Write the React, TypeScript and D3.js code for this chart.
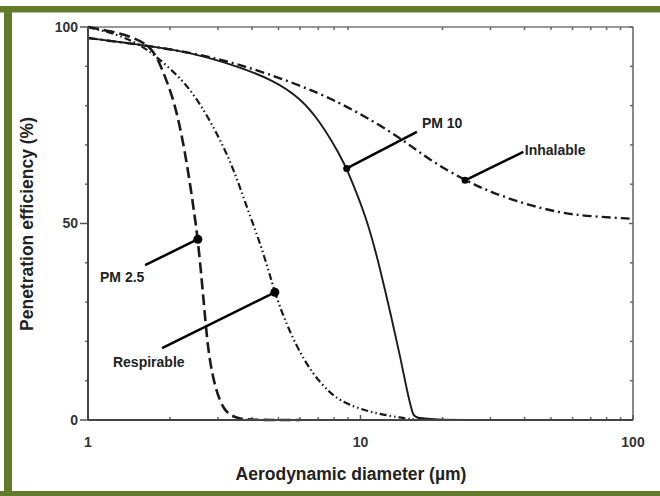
import React from "react";
import * as d3 from "d3";

// curves: [diameter µm, penetration %]
const pm25: [number, number][] = [
  [1, 100], [1.2, 99], [1.45, 97.5], [1.72, 95], [1.88, 89], [2.05, 82],
  [2.17, 75], [2.27, 68], [2.37, 60], [2.45, 53], [2.53, 46], [2.62, 35],
  [2.69, 26], [2.76, 18], [2.85, 12], [2.97, 7], [3.13, 3], [3.32, 1.2],
  [3.6, 0.3], [4, 0], [6, 0]
];
const respirable: [number, number][] = [
  [1, 100], [1.3, 98], [1.55, 95.5], [1.79, 92.4], [2.23, 86.5], [2.58, 80.5],
  [2.97, 73], [3.32, 66], [3.6, 59.5], [3.93, 52], [4.28, 45], [4.6, 38],
  [4.85, 32.5], [5.2, 26.5], [5.83, 18.6], [6.7, 11.5], [7.7, 7], [8.4, 5],
  [9.9, 2.8], [11.8, 1.5], [14, 0.6], [16, 0], [20, 0]
];
const pm10: [number, number][] = [
  [1, 97.2], [1.55, 95.5], [2.05, 94.3], [2.73, 92.4], [3.6, 89.8], [4.77, 86.5],
  [6, 82], [7.1, 76], [8.4, 67.5], [8.9, 64], [10.6, 51], [11.8, 38.5],
  [13, 26], [14, 16], [14.8, 7.5], [15.6, 1], [16, 0], [50, 0]
];
const inhalable: [number, number][] = [
  [1, 97.2], [2, 94.5], [3, 92], [4.53, 88.3], [7.1, 83.2], [9.9, 78.1],
  [13.9, 72], [18, 66], [24.2, 61], [30, 58], [40, 55], [53.7, 52.7],
  [70, 51.8], [100, 51.2]
];

// callouts: marker on curve, end of leader, label anchor (all in data units)
const calloutNames = ["PM 2.5", "Respirable", "PM 10", "Inhalable"];
const calloutAt: [number, number][] = [[2.53, 46], [4.85, 32.5], [8.9, 64], [24.2, 61]];
const calloutEnd: [number, number][] = [[1.62, 39.4], [1.87, 18.3], [16.1, 73.3], [39.6, 68.2]];
const calloutLabel: [number, number][] = [[1.107, 35.1], [1.235, 13.5], [16.8, 74.3], [40.1, 67.4]];

const xMajor = [1, 10, 100];
const yMajor = [0, 50, 100];
const yMinor = [10, 20, 30, 40, 60, 70, 80, 90];

const W = 660, H = 496;
const green = "#617b2b";
const font = "'Liberation Sans', Arial, sans-serif";

export default function App() {
  const x = d3.scaleLog().domain([1, 100]).range([88, 633]);
  const y = d3.scaleLinear().domain([0, 100]).range([420, 27]);
  const line = d3
    .line<[number, number]>()
    .x(d => x(d[0]))
    .y(d => y(d[1]))
    .curve(d3.curveBasis);

  const xMinor = x.ticks().filter(t => !xMajor.includes(t));

  const series = [
    { data: pm25, dash: "11,5", w: 2.6 },
    { data: respirable, dash: "7,3,1.5,3,1.5,3", w: 2.2 },
    { data: inhalable, dash: "9,4,2,4", w: 2.4 },
    { data: pm10, dash: null, w: 1.9 }
  ];

  return (
    <svg
      width={W}
      height={H}
      style={{ position: "absolute", left: 0, top: 0, background: "#fff" }}
      fontFamily={font}
    >
      {/* frame */}
      <rect x={0} y={6} width={W} height={6.5} fill={green} />
      <rect x={4} y={6} width={8} height={H - 6} fill={green} />
      <rect x={0} y={491} width={W} height={5} fill={green} />

      {/* top & right axes */}
      <line x1={x(1)} x2={x(100)} y1={y(100)} y2={y(100)} stroke="#999" strokeWidth={2} />
      <line x1={x(100)} x2={x(100)} y1={y(100)} y2={y(0)} stroke="#888" strokeWidth={2} />
      {xMinor.map(t => (
        <g key={"tx" + t}>
          <line x1={x(t)} x2={x(t)} y1={y(100)} y2={y(100) + 3} stroke="#666" strokeWidth={1.5} />
          <line x1={x(t)} x2={x(t)} y1={y(0)} y2={y(0) - 3} stroke="#666" strokeWidth={1.5} />
        </g>
      ))}
      {yMinor.map(t => (
        <g key={"ty" + t}>
          <line x1={x(1) - 3} x2={x(1)} y1={y(t)} y2={y(t)} stroke="#666" strokeWidth={1.5} />
          <line x1={x(100) - 3} x2={x(100)} y1={y(t)} y2={y(t)} stroke="#666" strokeWidth={1.5} />
        </g>
      ))}
      {yMajor.map(t => (
        <g key={"ym" + t}>
          <line x1={x(1) - 8} x2={x(1)} y1={y(t)} y2={y(t)} stroke="#555" strokeWidth={1.5} />
          <line x1={x(100) - 4} x2={x(100)} y1={y(t)} y2={y(t)} stroke="#666" strokeWidth={1.5} />
          <text x={x(1) - 10} y={y(t)} dy="0.35em" textAnchor="end" fontSize={14} fontWeight="bold" fill="#333">
            {t}
          </text>
        </g>
      ))}
      {xMajor.map(t => (
        <g key={"xm" + t}>
          <line x1={x(t)} x2={x(t)} y1={y(0)} y2={y(0) - 5} stroke="#555" strokeWidth={1.5} />
          <text x={x(t)} y={447} textAnchor="middle" fontSize={14} fontWeight="bold" fill="#333">
            {t}
          </text>
        </g>
      ))}

      {/* curves */}
      {series.map((s, i) => (
        <path
          key={i}
          d={line(s.data) || ""}
          fill="none"
          stroke="#1a1a1a"
          strokeWidth={s.w}
          strokeDasharray={s.dash || undefined}
        />
      ))}

      {/* left & bottom axes */}
      <line x1={x(1)} x2={x(1)} y1={y(100)} y2={y(0)} stroke="#444" strokeWidth={2} />
      <line x1={x(1)} x2={x(100)} y1={y(0)} y2={y(0)} stroke="#444" strokeWidth={2} />

      {/* callouts */}
      {calloutNames.map((name, i) => {
        const [ax, ay] = calloutAt[i];
        const [ex, ey] = calloutEnd[i];
        const [lx, ly] = calloutLabel[i];
        return (
          <g key={name}>
            <line x1={x(ax)} y1={y(ay)} x2={x(ex)} y2={y(ey)} stroke="#000" strokeWidth={2.5} />
            <circle cx={x(ax)} cy={y(ay)} r={i < 2 ? 4.5 : 3.5} fill="#000" />
            <text x={x(lx)} y={y(ly)} fontSize={14} fontWeight="bold" fill="#222">
              {name}
            </text>
          </g>
        );
      })}

      {/* titles */}
      <text x={351} y={480} textAnchor="middle" fontSize={17.5} fontWeight="bold" fill="#222">
        Aerodynamic diameter (µm)
      </text>
      <text
        transform="translate(33,224) rotate(-90)"
        textAnchor="middle"
        fontSize={17.5}
        fontWeight="bold"
        fill="#222"
      >
        Penetration efficiency (%)
      </text>
    </svg>
  );
}
